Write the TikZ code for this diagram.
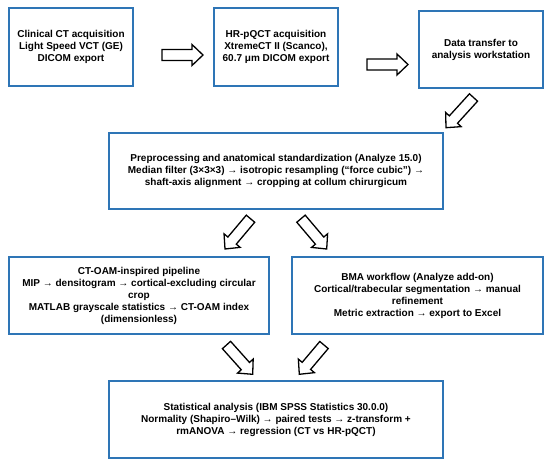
\documentclass[tikz,border=0pt]{standalone}
\usepackage{fontspec}
\setmainfont{Liberation Sans}
\usetikzlibrary{calc}
\definecolor{boxblue}{RGB}{46,117,182}
\tikzset{
  box/.style={draw=boxblue, line width=1.6pt, fill=white, align=center,
    inner sep=2pt, font=\fontsize{10}{12}\selectfont\bfseries},
  barrowstyle/.style={draw=black, line width=1.3pt, fill=white, line join=miter},
}
\newcommand\blockarr[2]{%
  \path let \p1=(#1), \p2=(#2) in \pgfextra{%
    \pgfmathsetmacro\baang{atan2(\y2-\y1,\x2-\x1)}%
    \pgfmathsetmacro\balen{veclen(\x2-\x1,\y2-\y1)}%
    \xdef\baAng{\baang}\xdef\baLen{\balen}};
  \draw[barrowstyle, shift={(#1)}, rotate=\baAng]
    (0pt,5.5pt) -- (\baLen pt-11pt,5.5pt) -- (\baLen pt-11pt,10.5pt)
    -- (\baLen pt,0pt) -- (\baLen pt-11pt,-10.5pt) -- (\baLen pt-11pt,-5.5pt)
    -- (0pt,-5.5pt) -- cycle;
}
\begin{document}
\begin{tikzpicture}[x=1pt,y=-1pt]
\useasboundingbox (0,0) rectangle (550,467);
\node[box, minimum width=124pt, minimum height=78pt] (b1) at (71,47)
  {Clinical CT acquisition\\Light Speed VCT (GE)\\DICOM export};
\node[box, minimum width=124pt, minimum height=78pt] (b2) at (276,47)
  {HR-pQCT acquisition\\XtremeCT II (Scanco),\\60.7 μm DICOM export};
\node[box, minimum width=124pt, minimum height=77pt] (b3) at (481,49.5)
  {Data transfer to\\analysis workstation};
\node[box, minimum width=334pt, minimum height=76pt] (b4) at (276,171)
  {Preprocessing and anatomical standardization (Analyze 15.0)\\
   Median filter (3×3×3) → isotropic resampling (“force cubic”) →\\
   shaft-axis alignment → cropping at collum chirurgicum};
\node[box, minimum width=260pt, minimum height=77pt] (b5) at (139,295.5)
  {CT-OAM-inspired pipeline\\
   MIP → densitogram → cortical-excluding circular\\
   crop\\
   MATLAB grayscale statistics → CT-OAM index\\
   (dimensionless)};
\node[box, minimum width=251pt, minimum height=77pt] (b6) at (417.5,295.5)
  {BMA workflow (Analyze add-on)\\
   Cortical/trabecular segmentation → manual\\
   refinement\\
   Metric extraction → export to Excel};
\node[box, minimum width=334pt, minimum height=77pt] (b7) at (276,419.5)
  {Statistical analysis (IBM SPSS Statistics 30.0.0)\\
   Normality (Shapiro–Wilk) → paired tests → z-transform +\\
   rmANOVA → regression (CT vs HR-pQCT)};
\coordinate (a1s) at (162,55);    \coordinate (a1e) at (203,55);
\coordinate (a2s) at (367,64.5);  \coordinate (a2e) at (408,64.5);
\coordinate (a3s) at (473.5,97.5);\coordinate (a3e) at (446,127.7);
\coordinate (a4s) at (250.5,218.7);\coordinate (a4e) at (225,249);
\coordinate (a5s) at (301,218.7); \coordinate (a5e) at (326.7,249);
\coordinate (a6s) at (226.5,345); \coordinate (a6e) at (252.7,374.3);
\coordinate (a7s) at (324,345);   \coordinate (a7e) at (299.3,374.3);
\blockarr{a1s}{a1e}
\blockarr{a2s}{a2e}
\blockarr{a3s}{a3e}
\blockarr{a4s}{a4e}
\blockarr{a5s}{a5e}
\blockarr{a6s}{a6e}
\blockarr{a7s}{a7e}
\end{tikzpicture}
\end{document}
